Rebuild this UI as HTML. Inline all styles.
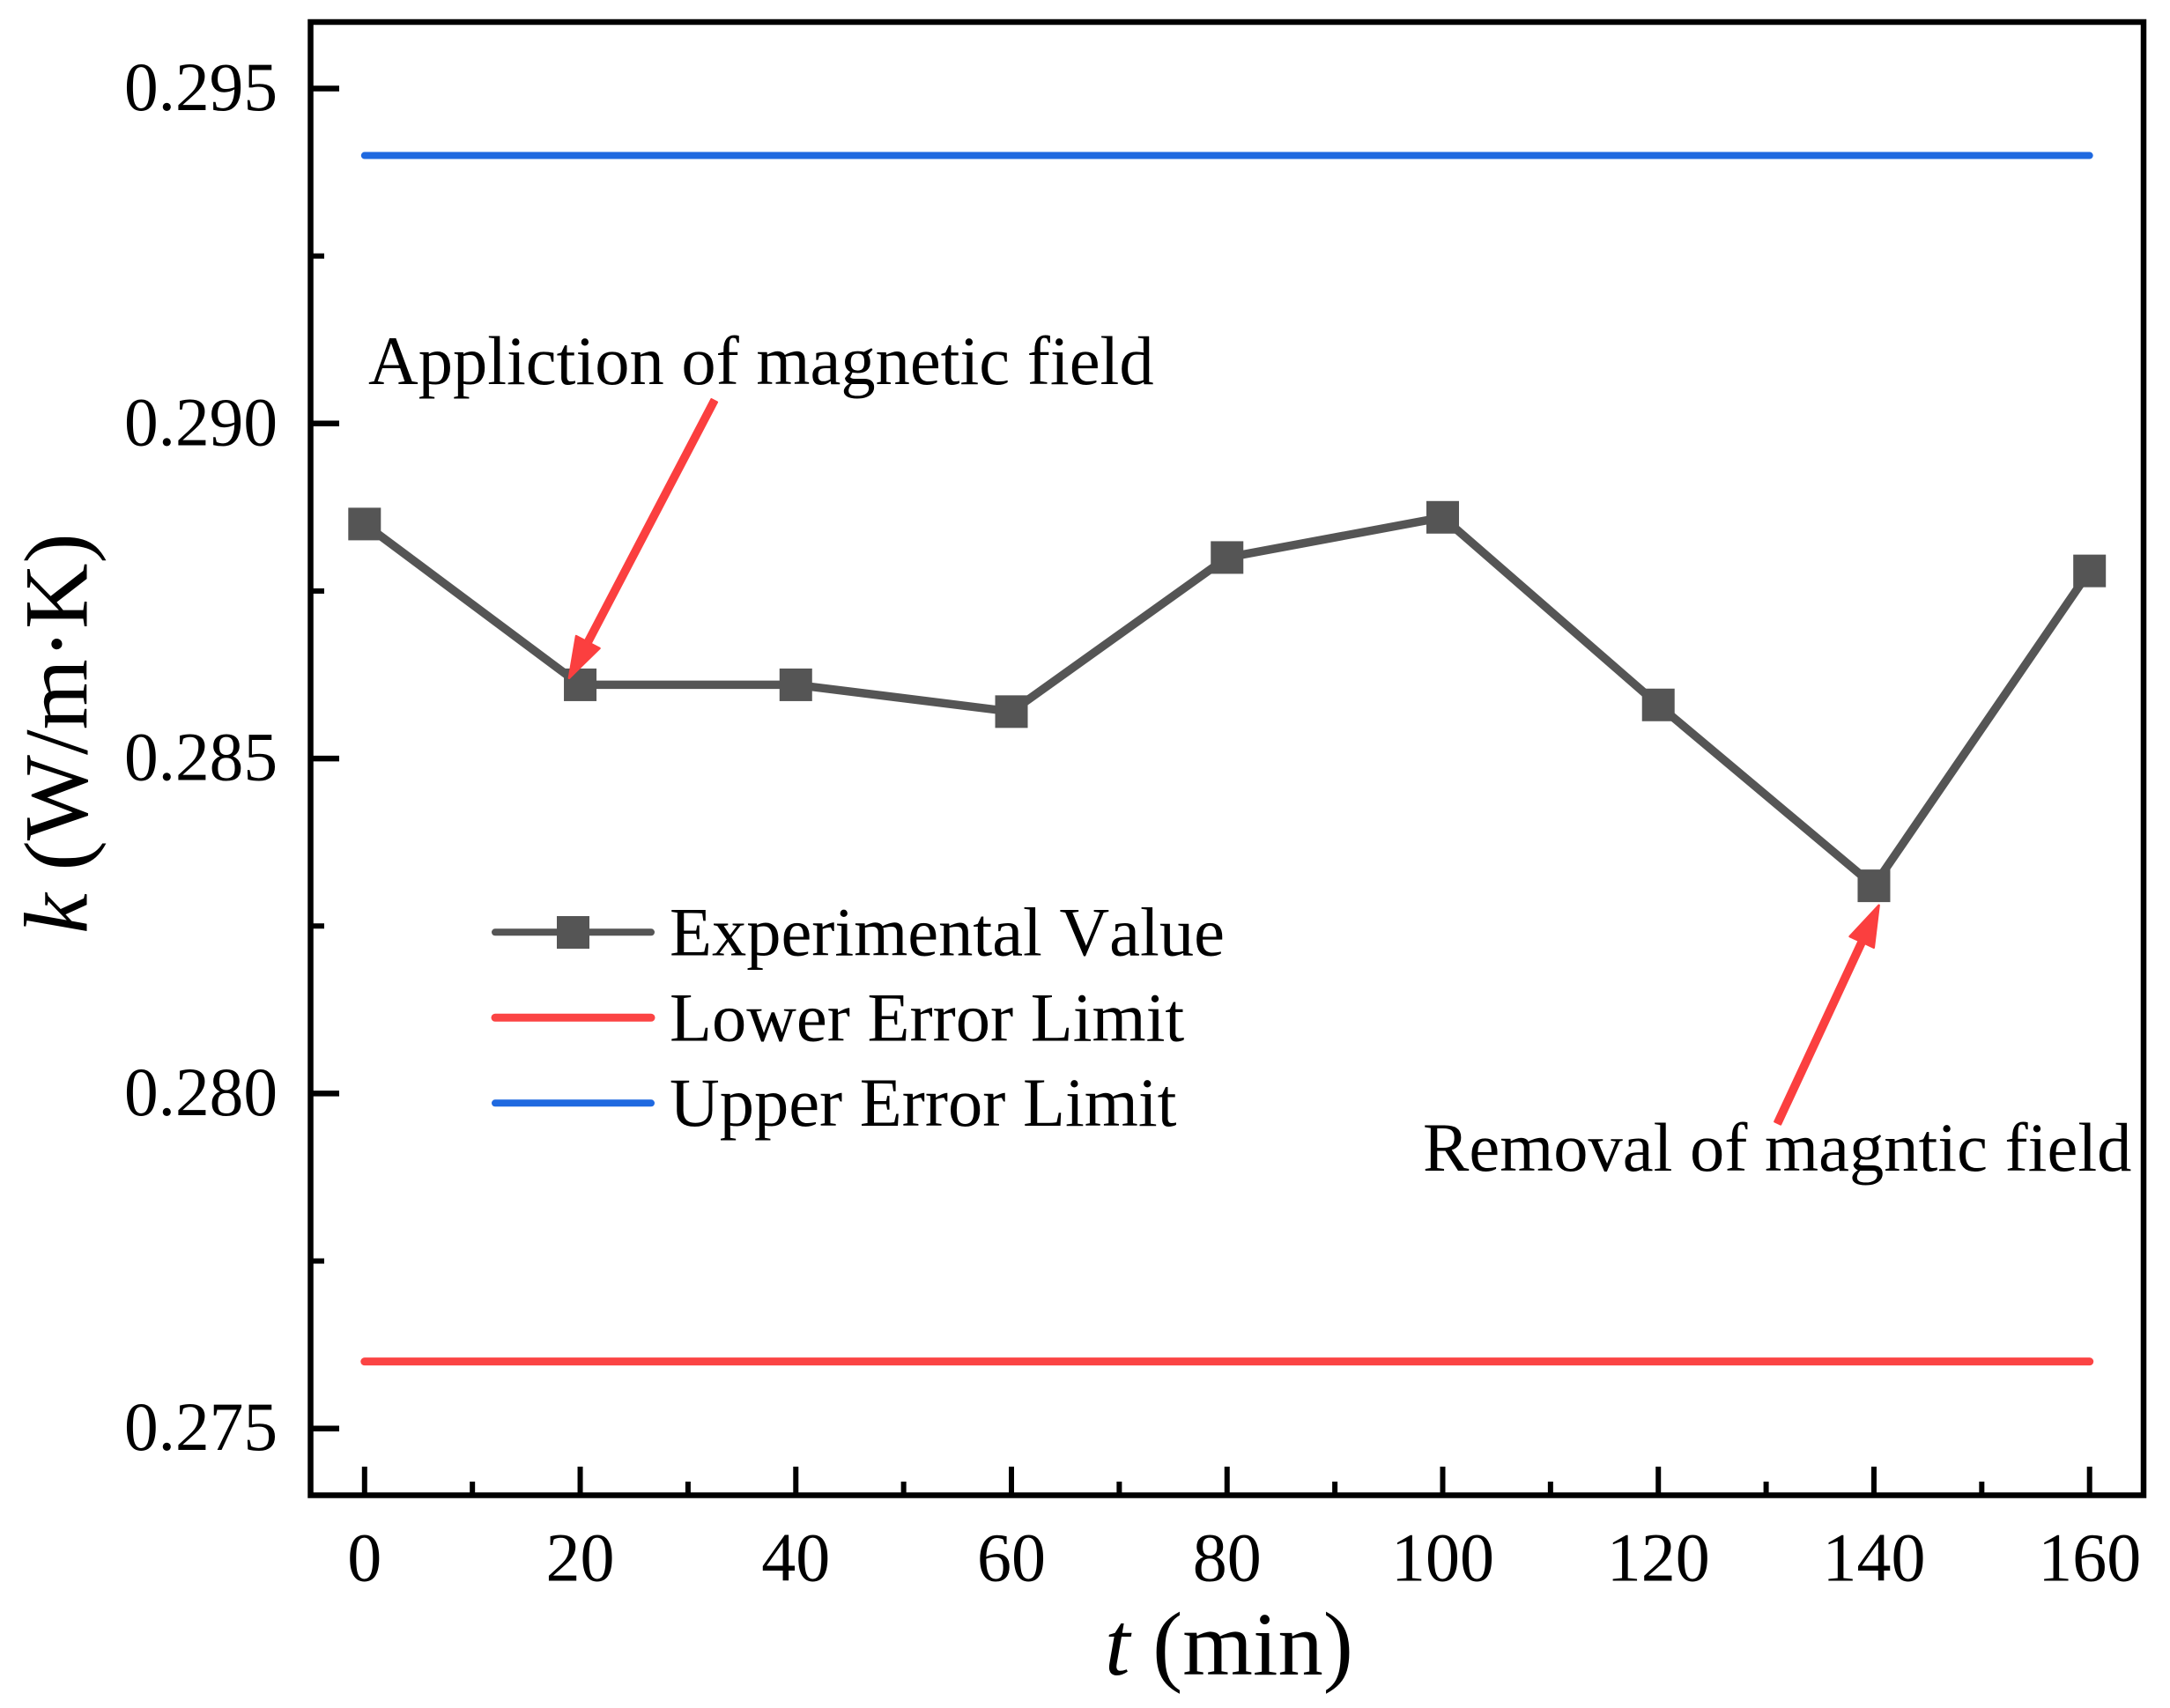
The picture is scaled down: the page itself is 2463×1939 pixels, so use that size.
<!DOCTYPE html>
<html lang="en">
<head>
<meta charset="utf-8">
<title>Thermal conductivity vs time</title>
<style>
html,body{margin:0;padding:0;background:#fff;}
svg{display:block;}
text{font-family:"Liberation Serif",serif;fill:#000;font-kerning:none;}
</style>
</head>
<body>
<svg id="chart" xmlns="http://www.w3.org/2000/svg" width="2463" height="1939" viewBox="0 0 2463 1939">
  <rect x="0" y="0" width="2463" height="1939" fill="#fff"/>
  <g id="series"></g>
  <rect x="352.5" y="25" width="2080.5" height="1672.5" fill="none" stroke="#000" stroke-width="6.5"/>
  <g id="axes"></g>
  <g id="annotations"></g>
  <text transform="translate(98.7 1060) rotate(-90)" font-size="103"><tspan font-style="italic">k</tspan> (W/m·K)</text>
  <text x="1254" y="1901" font-size="102.5"><tspan font-style="italic">t</tspan> (min)</text>
  <g>
    <g>
      <line x1="562" y1="1058.3" x2="739" y2="1058.3" stroke="#555" stroke-width="8" stroke-linecap="round"/>
      <rect x="632" y="1040" width="37" height="37" fill="#555"/>
      <text x="760" y="1084.3" font-size="78.5">Experimental Value</text>
    </g>
    <g>
      <line x1="562" y1="1155.3" x2="739" y2="1155.3" stroke="#fb4444" stroke-width="9" stroke-linecap="round"/>
      <text x="760" y="1181.7" font-size="78.5">Lower Error Limit</text>
    </g>
    <g>
      <line x1="562" y1="1252.3" x2="739" y2="1252.3" stroke="#1f69e0" stroke-width="8" stroke-linecap="round"/>
      <text x="760" y="1278" font-size="78.5">Upper Error Limit</text>
    </g>
  </g>
  <text x="418" y="436" font-size="78.5">Appliction of magnetic field</text>
  <text x="1615" y="1329" font-size="78.5">Removal of magntic field</text>
</svg>
<script>
const timeValues = [0, 20, 40, 60, 80, 100, 120, 140, 160];
const experimentalValues = [0.2885, 0.2861, 0.2861, 0.2857, 0.2880, 0.2886, 0.2858, 0.2831, 0.2878];
const lowerLimitValues = [0.276, 0.276, 0.276, 0.276, 0.276, 0.276, 0.276, 0.276, 0.276];
const upperLimitValues = [0.294, 0.294, 0.294, 0.294, 0.294, 0.294, 0.294, 0.294, 0.294];
const xMajorTicks = [0, 20, 40, 60, 80, 100, 120, 140, 160];
const xMinorTicks = [10, 30, 50, 70, 90, 110, 130, 150];
const yMajorTicks = ["0.275", "0.280", "0.285", "0.290", "0.295"];
const yMinorTicks = [0.2775, 0.2825, 0.2875, 0.2925];
const arrowApplicationTail = [32.43, 0.29034];
const arrowApplicationTip = [18.97, 0.2862];
const arrowRemovalTail = [131.07, 0.27956];
const arrowRemovalTip = [140.46, 0.28281];

const SVG_NS = 'http://www.w3.org/2000/svg';
const xScale = function (t) { return 413.8 + (t - 0) * (2371.7 - 413.8) / 160; };
const yScale = function (k) { return 100.5 + (0.295 - k) * (1621.7 - 100.5) / 0.02; };

function make(tag, parent, attrs) {
  const el = document.createElementNS(SVG_NS, tag);
  Object.keys(attrs).forEach(function (key) { el.setAttribute(key, attrs[key]); });
  parent.appendChild(el);
  return el;
}
function pointsOf(xs, ys) {
  return xs.map(function (t, i) { return xScale(t).toFixed(2) + ',' + yScale(ys[i]).toFixed(2); }).join(' ');
}

const seriesGroup = document.getElementById('series');
const axesGroup = document.getElementById('axes');
const annotationGroup = document.getElementById('annotations');

const upperLine = make('polyline', seriesGroup, { points: pointsOf(timeValues, upperLimitValues), fill: 'none', stroke: '#1f69e0', 'stroke-width': 8, 'stroke-linecap': 'round' });



const lowerLine = make('polyline', seriesGroup, { points: pointsOf(timeValues, lowerLimitValues), fill: 'none', stroke: '#fb4444', 'stroke-width': 9, 'stroke-linecap': 'round' });



const experimentalLine = make('polyline', seriesGroup, { points: pointsOf(timeValues, experimentalValues), fill: 'none', stroke: '#555', 'stroke-width': 9.5, 'stroke-linejoin': 'round' });



timeValues.forEach(function (t, i) {
  const marker = make('rect', seriesGroup, { x: xScale(t) - 18.5, y: yScale(experimentalValues[i]) - 18.5, width: 37, height: 37, fill: '#555' });
  
  
});

xMajorTicks.forEach(function (t) {
  const tick = make('line', axesGroup, { x1: xScale(t), x2: xScale(t), y1: 1665, y2: 1697, stroke: '#000', 'stroke-width': 6 });
  
  
  const label = make('text', axesGroup, { x: xScale(t), y: 1794.7, 'font-size': 78, 'text-anchor': 'middle' });
  label.textContent = String(t);
  
  
});
xMinorTicks.forEach(function (t) {
  const tick = make('line', axesGroup, { x1: xScale(t), x2: xScale(t), y1: 1682, y2: 1697, stroke: '#000', 'stroke-width': 6 });
  
  
});
yMajorTicks.forEach(function (s) {
  const k = parseFloat(s);
  const tick = make('line', axesGroup, { x1: 352, x2: 385, y1: yScale(k), y2: yScale(k), stroke: '#000', 'stroke-width': 6.5 });
  
  
  const label = make('text', axesGroup, { x: 315, y: yScale(k) + 24.5, 'font-size': 78, 'text-anchor': 'end', textLength: 174, lengthAdjust: 'spacingAndGlyphs' });
  label.textContent = s;
  
  
});
yMinorTicks.forEach(function (k) {
  const tick = make('line', axesGroup, { x1: 352, x2: 368, y1: yScale(k), y2: yScale(k), stroke: '#000', 'stroke-width': 6 });
  
  
});

function arrowPath(tail, tip) {
  const x1 = xScale(tail[0]), y1 = yScale(tail[1]), x2 = xScale(tip[0]), y2 = yScale(tip[1]);
  const len = Math.hypot(x2 - x1, y2 - y1);
  const ux = (x2 - x1) / len, uy = (y2 - y1) / len;
  const px = -uy, py = ux;
  const headLen = 46, headHalf = 15, shaftHalf = 3.6;
  const bx = x2 - ux * headLen, by = y2 - uy * headLen;
  const pts = [
    [x1 + px * shaftHalf, y1 + py * shaftHalf],
    [bx + px * shaftHalf, by + py * shaftHalf],
    [bx + px * headHalf, by + py * headHalf],
    [x2, y2],
    [bx - px * headHalf, by - py * headHalf],
    [bx - px * shaftHalf, by - py * shaftHalf],
    [x1 - px * shaftHalf, y1 - py * shaftHalf]
  ];
  return 'M' + pts.map(function (p) { return p[0].toFixed(1) + ' ' + p[1].toFixed(1); }).join('L') + 'Z';
}
const arrowApplication = make('path', annotationGroup, { d: arrowPath(arrowApplicationTail, arrowApplicationTip), fill: '#fb3f3f', stroke: '#fb3f3f', 'stroke-width': 2.5, 'stroke-linejoin': 'round' });


const arrowRemoval = make('path', annotationGroup, { d: arrowPath(arrowRemovalTail, arrowRemovalTip), fill: '#fb3f3f', stroke: '#fb3f3f', 'stroke-width': 2.5, 'stroke-linejoin': 'round' });


</script>
</body>
</html>
